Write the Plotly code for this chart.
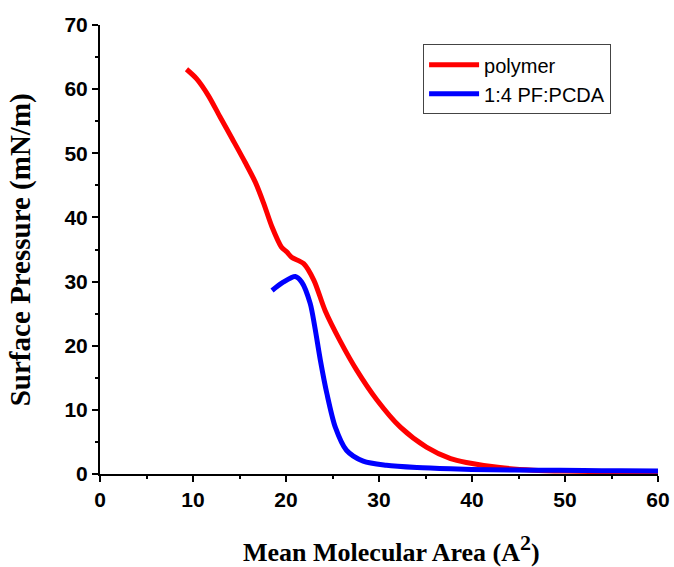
import plotly.graph_objects as go

# polymer isotherm
poly_x = [9.3, 10.4, 11.65, 12.9, 14.2, 15.6, 16.7, 17.6, 18.5, 19.5, 20.1, 20.6, 21.9, 23.0, 24.2,
          25.8, 27.6, 29.8, 32.3, 35.1, 37.7, 39.4, 43.0, 46.6, 50.0, 55.0, 60.0]
poly_y = [63.1, 61.6, 59.0, 55.7, 52.3, 48.6, 45.5, 42.2, 38.5, 35.4, 34.6, 33.8, 32.8, 30.2, 25.5,
          20.8, 16.2, 11.5, 7.3, 4.2, 2.4, 1.8, 1.0, 0.6, 0.45, 0.35, 0.3]

# 1:4 PF:PCDA isotherm
blend_x = [18.5, 19.7, 21.0, 21.7, 22.6, 23.1, 23.7, 24.4, 25.3, 26.5, 28.3, 30.8, 34.1, 37.7,
           42.0, 47.0, 52.0, 56.0, 60.0]
blend_y = [28.6, 29.9, 30.8, 29.9, 26.6, 22.9, 17.7, 12.5, 7.3, 3.7, 2.0, 1.35, 1.0, 0.8,
           0.65, 0.6, 0.55, 0.5, 0.47]

x_ticks = [0, 10, 20, 30, 40, 50, 60]
y_ticks = [0, 10, 20, 30, 40, 50, 60, 70]

x_title = 'Mean Molecular Area (A<sup><span style="font-size:22px">2</span></sup>)'
y_title = "Surface Pressure (mN/m)"

fig = go.Figure()
fig.add_trace(go.Scatter(x=poly_x, y=poly_y, mode="lines", name="polymer",
                         line=dict(color="#ff0000", width=5, shape="spline", smoothing=0.8)))
fig.add_trace(go.Scatter(x=blend_x, y=blend_y, mode="lines", name="1:4 PF:PCDA",
                         line=dict(color="#0000ff", width=5, shape="spline", smoothing=0.8)))

axis_common = dict(showline=True, linecolor="black", linewidth=2, ticks="outside", ticklen=6,
                   tickwidth=2, tickcolor="black", showgrid=False, zeroline=False, mirror=False,
                   automargin=False,
                   tickfont=dict(family="Liberation Sans, Arial", size=21, color="black", weight="bold"),
                   minor=dict(ticks="outside", ticklen=3, tickwidth=2, tickcolor="black", dtick=5, showgrid=False))

fig.update_xaxes(range=[0, 60], tickvals=x_ticks, ticktext=[f"<b>{v}</b>" for v in x_ticks], **axis_common)
fig.update_yaxes(range=[0, 70], tickvals=y_ticks, ticktext=[f"<b>{v}</b>" for v in y_ticks], **axis_common)

fig.add_annotation(text=f"<b>{x_title}</b>", xref="paper", yref="paper", x=0.523, y=-0.166,
                   xanchor="center", yanchor="middle", showarrow=False,
                   font=dict(family="Liberation Serif, Times New Roman", size=26, color="black"))
fig.add_annotation(text=f"<b>{y_title}</b>", xref="paper", yref="paper", x=-0.142, y=0.50,
                   xanchor="center", yanchor="middle", showarrow=False, textangle=-90,
                   font=dict(family="Liberation Serif, Times New Roman", size=29, color="black"))

fig.update_layout(
    width=674, height=567,
    margin=dict(l=100, r=16, t=25, b=93),
    plot_bgcolor="white", paper_bgcolor="white",
    showlegend=True,
    legend=dict(x=0.579, y=0.957, xanchor="left", yanchor="top",
                bordercolor="#444", borderwidth=1, bgcolor="white",
                font=dict(family="Liberation Sans, Arial", size=20, color="black"),
                tracegroupgap=0, itemwidth=50),
)

# remove the default 8px page margin so the 674x567 figure fills the window exactly
fig.write_html("out.html", config={"displayModeBar": False},
               post_script="document.body.style.margin='0';document.body.style.overflow='hidden';")
